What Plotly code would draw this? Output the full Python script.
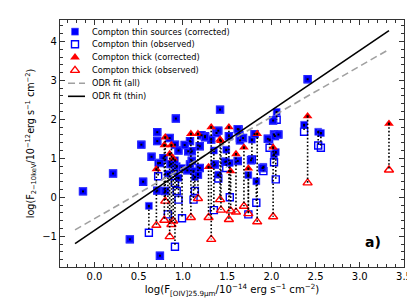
import numpy as np
import plotly.graph_objects as go

# ---------------- data ----------------
# Compton-thin sources: log F[OIV], corrected log F(2-10 keV), observed log F(2-10 keV)
thin_x = [-0.13, 0.21, 0.40, 0.55, 0.53, 0.645, 0.615, 0.74, 0.71, 0.71, 0.92, 0.85,
          0.71, 0.72, 0.80, 0.91, 0.95, 0.93, 0.83, 0.91, 0.99, 0.91, 0.78, 0.86,
          1.08, 1.06, 1.19, 1.25, 1.32, 1.38, 1.42, 1.08, 1.12, 1.135, 1.17, 1.19,
          1.10, 1.05, 0.95, 1.10, 1.21, 1.40, 1.49, 1.63, 1.645, 1.78, 1.91, 1.98,
          2.03, 2.06, 2.02, 2.37, 2.53, 2.56, 2.41, 2.03, 2.05, 1.40, 1.74, 1.83,
          1.53, 1.35, 1.36, 1.62, 1.77, 1.52, 1.48, 1.02, 1.25, 0.74, 1.81, 1.62,
          1.645, 1.68, 1.96, 2.04, 2.08, 1.90]
thin_corr = [0.15, 0.61, -1.08, 0.40, 1.35, 1.04, -0.22, -1.50, 1.67, 1.44, 2.02, 1.52,
             0.17, 0.88, 0.16, 0.67, 0.50, 0.80, 0.60, 0.95, 0.75, 1.35, 1.00, 0.85,
             1.44, 1.18, 1.31, 1.57, 1.48, 1.65, 2.25, 0.84, 0.67, 0.52, 0.58, 0.75,
             0.94, 0.69, 1.20, 1.18, 1.59, 1.71, 1.22, 1.74, 1.61, 1.48, 0.78, 1.48,
             1.61, 2.19, 1.97, 1.86, 1.68, 1.65, 3.03, 1.10, 1.16, 0.58, 0.57, 0.41,
             0.88, 1.20, 0.84, 0.93, 0.95, 1.57, 0.91, 1.34, 1.54, 0.88, 1.62, 1.75,
             1.46, 1.52, 1.50, 1.57, 1.61, 0.75]
thin_obs = [0.15, 0.61, -1.08, 0.40, 1.35, 1.04, -0.91, -1.50, 1.67, 1.44, 2.02, 1.52,
            0.17, 0.54, 0.16, 0.37, -0.06, 0.16, -0.44, -1.27, -0.54, 1.35, 1.00, 0.85,
            1.44, 1.18, 1.31, 1.57, 1.48, 1.65, 2.25, 0.84, -0.06, 0.16, 0.58, 0.75,
            0.94, 0.69, 1.20, 1.18, 1.59, 1.71, 0.75, 1.74, 1.52, 0.97, 0.67, 1.27,
            1.61, 1.99, 1.97, 1.68, 1.33, 1.27, 3.03, 0.90, 0.46, 0.48, -0.44, -0.14,
            0.00, -0.33, 0.84, 0.93, 0.95, 1.57, 0.91, 1.34, 1.54, 0.88, 1.62, 1.75,
            1.46, 1.52, 1.50, 1.57, 1.61, 0.75]

# Compton-thick sources
thick_x = [0.70, 0.80, 0.79, 0.87, 0.85, 0.89, 1.09, 1.17, 1.32, 1.29, 1.42, 1.43,
           1.52, 1.54, 1.60, 1.69, 1.74, 1.84, 2.02, 2.41, 3.33]
thick_corr = [0.72, 1.54, 1.34, 1.34, 1.11, 1.00, 1.63, 1.63, 1.80, 0.78, 1.48, 1.45,
              1.80, 0.67, 1.11, 1.28, 0.74, 1.63, 1.28, 2.08, 1.89]
thick_obs = [-0.72, -0.10, -0.59, -0.70, -1.01, -0.61, -0.52, -0.03, -1.08, -0.52, -0.06, -0.33,
             -0.57, -0.35, -0.38, -0.23, -0.42, -0.63, -0.50, 0.37, 0.70]

# ODR fits: name, slope, intercept, x extent
fit_names = ["ODR fit (all)", "ODR fit (thin)"]
fit_slope = [1.305, 1.54]
fit_icpt = [-0.55, -0.85]
fit_xmin = [-0.22, -0.22]
fit_xmax = [3.33, 3.33]

legend_labels = ["Compton thin sources (corrected)", "Compton thin (observed)",
                 "Compton thick (corrected)", "Compton thick (observed)",
                 "ODR fit (all)", "ODR fit (thin)"]

x_ticks = [0.0, 0.5, 1.0, 1.5, 2.0, 2.5, 3.0, 3.5]
x_ticklabels = ["0.0", "0.5", "1.0", "1.5", "2.0", "2.5", "3.0", "3.5"]
y_ticks = [-1, 0, 1, 2, 3, 4]
y_ticklabels = ["\u22121", "0", "1", "2", "3", "4"]

BLUE = "#0000ff"
RED = "#ff0000"
FONT = "DejaVu Sans"

sq_open = dict(symbol="square-open", size=7, color=BLUE, line=dict(width=1.4))
tri_open = dict(symbol="triangle-up-open", size=8, color=RED, line=dict(width=1.4))
sq_fill = dict(symbol="square", size=7, color=BLUE, line=dict(width=1, color="rgba(80,80,255,0.55)"))
tri_fill = dict(symbol="triangle-up", size=8.5, color=RED, line=dict(width=0))
fit_styles = [dict(color="#a0a0a0", width=1.6, dash="7px,4px"), dict(color="black", width=1.6)]

fig = go.Figure()

# observed (open) markers underneath
fig.add_trace(go.Scatter(x=thin_x, y=thin_obs, mode="markers", name=legend_labels[1],
                         marker=sq_open, showlegend=False))
fig.add_trace(go.Scatter(x=thick_x, y=thick_obs, mode="markers", name=legend_labels[3],
                         marker=tri_open, showlegend=False))
# corrected (filled) markers
fig.add_trace(go.Scatter(x=thin_x, y=thin_corr, mode="markers", name=legend_labels[0],
                         marker=sq_fill, showlegend=False))
fig.add_trace(go.Scatter(x=thick_x, y=thick_corr, mode="markers", name=legend_labels[2],
                         marker=tri_fill, showlegend=False))

# dotted connectors corrected -> observed
cx, cy = [], []
for xs, yc, yo in ((thin_x, thin_corr, thin_obs), (thick_x, thick_corr, thick_obs)):
    for a, b, c in zip(xs, yc, yo):
        cx += [a, a, None]
        cy += [b, c, None]
fig.add_trace(go.Scatter(x=cx, y=cy, mode="lines", showlegend=False, hoverinfo="skip",
                         line=dict(color="black", width=1.6, dash="1.6px,2px")))
fig.add_trace(go.Scatter(x=thin_x + thick_x, y=thin_corr + thick_corr, mode="markers",
                         showlegend=False, hoverinfo="skip",
                         marker=dict(symbol="square", size=2, color="black")))

# fit lines
for i, nm in enumerate(fit_names):
    xx = np.array([fit_xmin[i], fit_xmax[i]])
    fig.add_trace(go.Scatter(x=xx, y=fit_slope[i] * xx + fit_icpt[i], mode="lines",
                             name=nm, line=fit_styles[i], showlegend=False))

# ---- compact legend drawn on an overlay axis (0..1 over the plot area) ----
leg_y = [0.953, 0.902, 0.849, 0.796, 0.744, 0.691]
leg_sym_x = 0.0436
leg_line_x = [0.0233, 0.0727]
leg_text_x = 0.0872
marker_styles = [sq_fill, sq_open, tri_fill, tri_open]
for i in range(4):
    fig.add_trace(go.Scatter(x=[leg_sym_x], y=[leg_y[i]], mode="markers", marker=marker_styles[i],
                             xaxis="x2", yaxis="y2", showlegend=False, hoverinfo="skip"))
for i in range(2):
    fig.add_trace(go.Scatter(x=leg_line_x, y=[leg_y[4 + i]] * 2, mode="lines", line=fit_styles[i],
                             xaxis="x2", yaxis="y2", showlegend=False, hoverinfo="skip"))
for i, lab in enumerate(legend_labels):
    fig.add_annotation(text=lab, x=leg_text_x, y=leg_y[i], xref="paper", yref="paper",
                       xanchor="left", yanchor="middle", showarrow=False,
                       font=dict(family=FONT, size=8.2, color="black"))

axis_common = dict(showline=True, linecolor="#333333", linewidth=1.2, mirror="allticks",
                   ticks="inside", ticklen=5, tickwidth=1, tickcolor="#333333",
                   showgrid=False, zeroline=False,
                   tickfont=dict(family=FONT, size=10, color="black"))

xaxis = dict(range=[-0.39, 3.5], tickvals=x_ticks, ticktext=x_ticklabels,
             minor=dict(ticks="inside", dtick=0.1, ticklen=2.5, tickcolor="#333333", showgrid=False),
             title=dict(text="log(F<sub>[OIV]25.9\u03bcm</sub>/10<sup>\u221214</sup> erg s<sup>\u22121</sup> cm<sup>\u22122</sup>)",
                        font=dict(family=FONT, size=10.2, color="black"), standoff=0),
             **axis_common)
yaxis = dict(range=[-1.79, 4.55], tickvals=y_ticks, ticktext=y_ticklabels,
             minor=dict(ticks="inside", dtick=0.2, ticklen=2.5, tickcolor="#333333", showgrid=False),
             title=dict(text="log(F<sub>2\u221210keV</sub>/10<sup>\u221212</sup>erg s<sup>\u22121</sup> cm<sup>\u22122</sup>)",
                        font=dict(family=FONT, size=9.6, color="black"), standoff=5),
             **axis_common)

fig.add_annotation(text="<b>a)</b>", x=0.94, y=0.1, xref="paper", yref="paper",
                   xanchor="right", yanchor="middle", showarrow=False,
                   font=dict(family=FONT, size=14, color="black"))

fig.update_layout(
    width=415, height=308, margin=dict(l=52, r=19, t=12, b=49),
    paper_bgcolor="white", plot_bgcolor="white",
    font=dict(family=FONT, color="black"),
    showlegend=False,
    xaxis=xaxis, yaxis=yaxis,
    xaxis2=dict(overlaying="x", range=[0, 1], visible=False, fixedrange=True),
    yaxis2=dict(overlaying="y", range=[0, 1], visible=False, fixedrange=True),
)

fig.write_html("out.html")
